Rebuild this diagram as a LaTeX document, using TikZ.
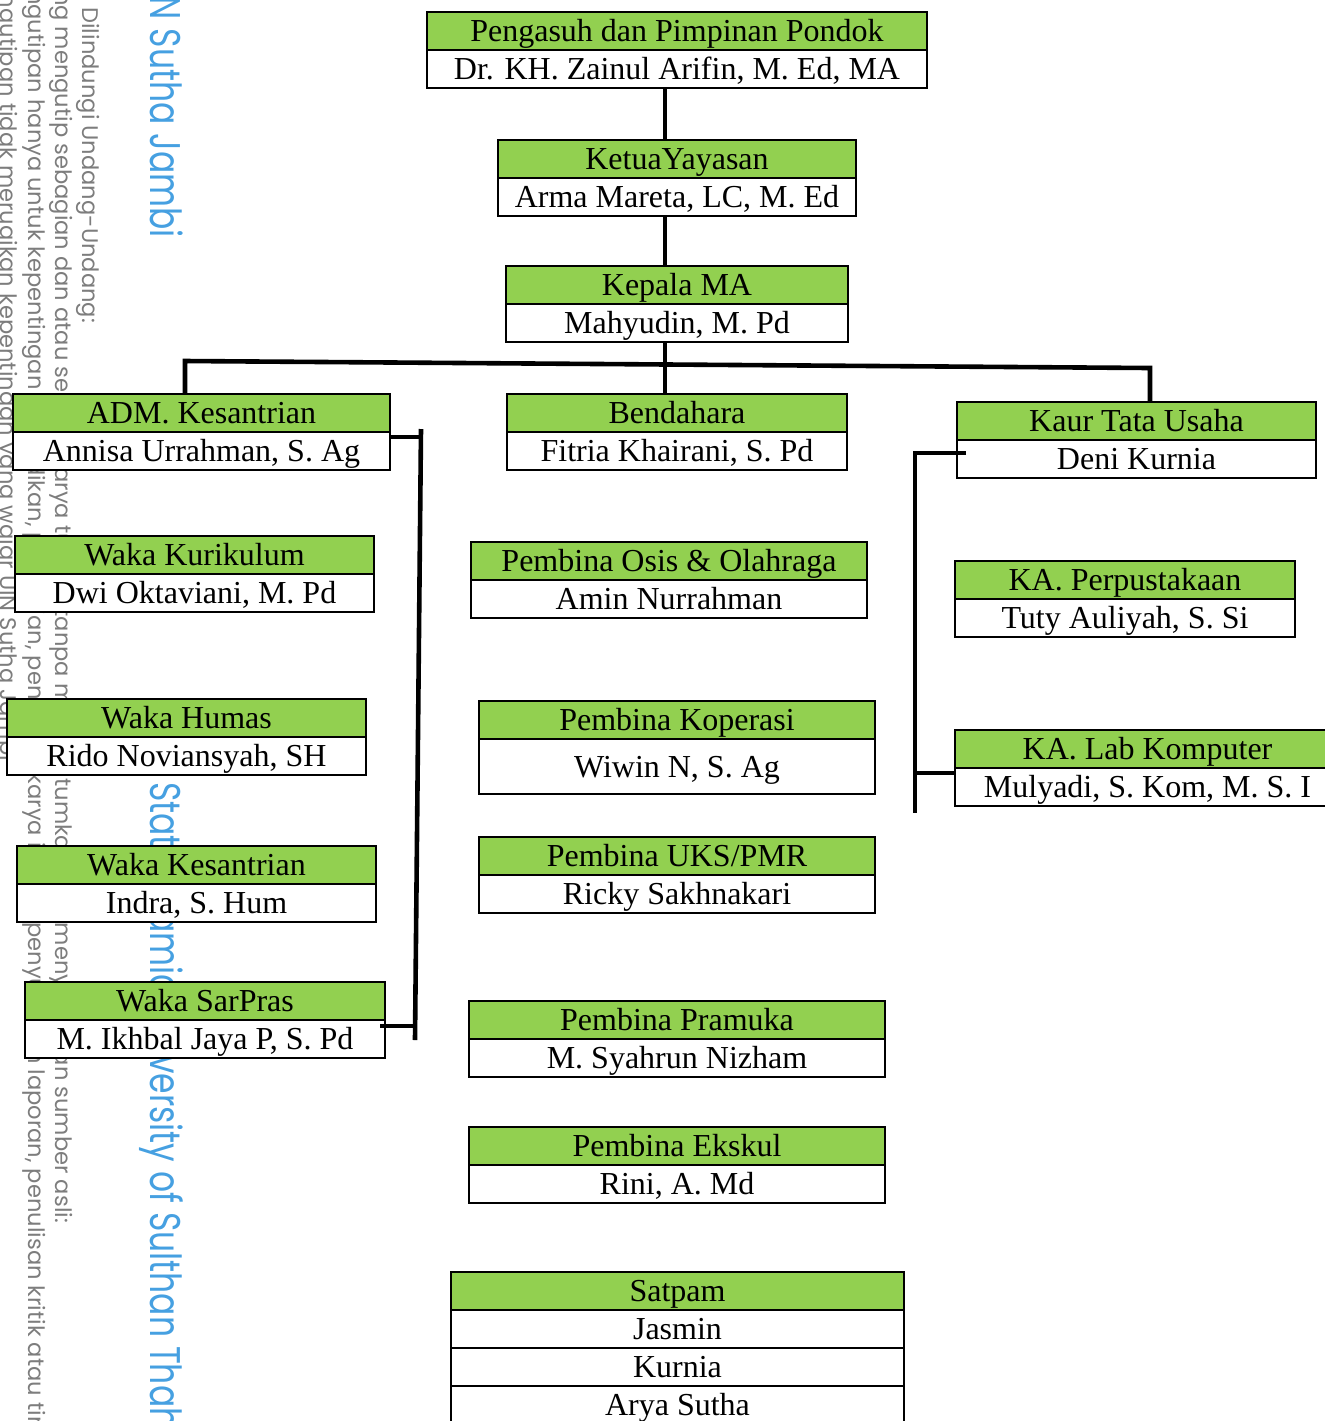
\documentclass[tikz,border=0pt]{standalone}
\usepackage{fontspec}
\setmainfont{Liberation Serif}
\newfontfamily\wmfont{Poppins}
\usetikzlibrary{positioning}
\definecolor{kgreen}{RGB}{146,208,80}
\definecolor{wmgray}{RGB}{125,125,125}
\definecolor{wmblue}{RGB}{70,160,225}

\begin{document}
\begin{tikzpicture}[x=0.5pt,y=-0.5pt,font=\fontsize{16}{19}\selectfont,
	head/.style={draw,line width=1.1pt,fill=kgreen,minimum width=#1,minimum height=19pt,inner sep=0pt,outer sep=0pt,text height=14pt,text depth=3.5pt,anchor=north west},
	who/.style={draw,line width=1.1pt,fill=white,minimum width=#1,minimum height=19pt,inner sep=0pt,outer sep=0pt,text height=14pt,text depth=3.5pt},
	conn/.style={line width=2.3pt},
	wm/.style={rotate=-90,anchor=base east,text=wmgray,font=\wmfont\fontsize{11.3}{13}\selectfont},
	wmbig/.style={wm,text=wmblue,yscale=1.3,font=\wmfont\fontsize{16.5}{19}\selectfont}]
	\path[use as bounding box] (0,0) rectangle (1325,1421);
	\clip (0,0) rectangle (1325,1421);
	% watermark
	\node[wm] (wmA) at (83,330) {Hak Cipta Dilindungi Undang-Undang:};
	\node[wm] (wmB) at (55,1230) {1. Dilarang mengutip sebagian dan atau seluruh karya tulis ini tanpa mencantumkan dan menyebutkan sumber asli:};
	\node[wm,anchor=base west] (wmC) at (28,-72) {a. Pengutipan hanya untuk kepentingan pendidikan, penelitian, penulisan karya ilmiah, penyusunan laporan, penulisan kritik atau tinjauan suatu masalah.};
	\node[wm] (wmD) at (1,768) {b. Pengutipan tidak merugikan kepentingan yang wajar UIN Sutha Jambi};
	\node[wmbig] (wmE) at (150,245) {Hak cipta milik UIN Sutha Jambi};
	\node[wmbig,anchor=base west] (wmF) at (150,775) {State Islamic University of Sulthan Thaha Saifuddin Jambi};
	% top
	\node[head=250pt] (pengasuh) at (427,12) {Pengasuh dan Pimpinan Pondok};
	\node[who=250pt,below=0pt of pengasuh] (pengasuhN) {Dr. KH. Zainul Arifin, M. Ed, MA};
	\node[head=179pt] (ketua) at (498,140) {KetuaYayasan};
	\node[who=179pt,below=0pt of ketua] (ketuaN) {Arma Mareta, LC, M. Ed};
	\node[head=171pt] (kepala) at (506,266) {Kepala MA};
	\node[who=171pt,below=0pt of kepala] (kepalaN) {Mahyudin, M. Pd};
	% second row
	\node[head=188.5pt] (adm) at (13,394) {ADM. Kesantrian};
	\node[who=188.5pt,below=0pt of adm] (admN) {Annisa Urrahman, S. Ag};
	\node[head=170pt] (bendahara) at (507,394) {Bendahara};
	\node[who=170pt,below=0pt of bendahara] (bendaharaN) {Fitria Khairani, S. Pd};
	\node[head=179.5pt] (kaur) at (957,402) {Kaur Tata Usaha};
	\node[who=179.5pt,below=0pt of kaur] (kaurN) {Deni Kurnia};
	% waka
	\node[head=179.5pt] (kurikulum) at (15,536) {Waka Kurikulum};
	\node[who=179.5pt,below=0pt of kurikulum] (kurikulumN) {Dwi Oktaviani, M. Pd};
	\node[head=179.5pt] (humas) at (7,699) {Waka Humas};
	\node[who=179.5pt,below=0pt of humas] (humasN) {Rido Noviansyah, SH};
	\node[head=179.5pt] (kesantrian) at (17,846) {Waka Kesantrian};
	\node[who=179.5pt,below=0pt of kesantrian] (kesantrianN) {Indra, S. Hum};
	\node[head=180pt] (sarpras) at (25,982) {Waka SarPras};
	\node[who=180pt,below=0pt of sarpras] (sarprasN) {M. Ikhbal Jaya P, S. Pd};
	% pembina
	\node[head=198pt] (osis) at (471,542) {Pembina Osis \& Olahraga};
	\node[who=198pt,below=0pt of osis] (osisN) {Amin Nurrahman};
	\node[head=198pt] (koperasi) at (479,701) {Pembina Koperasi};
	\node[who=198pt,minimum height=27.5pt,below=0pt of koperasi] (koperasiN) {Wiwin N, S. Ag};
	\node[head=198pt] (uks) at (479,837) {Pembina UKS/PMR};
	\node[who=198pt,below=0pt of uks] (uksN) {Ricky Sakhnakari};
	\node[head=208pt] (pramuka) at (469,1001) {Pembina Pramuka};
	\node[who=208pt,below=0pt of pramuka] (pramukaN) {M. Syahrun Nizham};
	\node[head=208pt] (ekskul) at (469,1127) {Pembina Ekskul};
	\node[who=208pt,below=0pt of ekskul] (ekskulN) {Rini, A. Md};
	\node[head=226.5pt] (satpam) at (451,1272) {Satpam};
	\node[who=226.5pt,below=0pt of satpam] (satpamA) {Jasmin};
	\node[who=226.5pt,below=0pt of satpamA] (satpamB) {Kurnia};
	\node[who=226.5pt,below=0pt of satpamB] (satpamC) {Arya Sutha};
	% kepala unit
	\node[head=170pt] (perpus) at (955,561) {KA. Perpustakaan};
	\node[who=170pt,below=0pt of perpus] (perpusN) {Tuty Auliyah, S. Si};
	\node[head=192.5pt] (lab) at (955,730) {KA. Lab Komputer};
	\node[who=192.5pt,below=0pt of lab] (labN) {Mulyadi, S. Kom, M. S. I};
	% connectors
	\coordinate (trunk) at (665,0);
	\draw[conn] (pengasuhN.south -| trunk) -- (ketua.north -| trunk);
	\draw[conn] (ketuaN.south -| trunk) -- (kepala.north -| trunk);
	\draw[conn] (kepalaN.south -| trunk) -- (bendahara.north -| trunk);
	\coordinate (branchL) at (185,361);
	\coordinate (branchR) at (1150,368);
	\draw[conn] (adm.north -| branchL) -- (branchL) -- (branchR) -- (kaur.north -| branchR);
	\coordinate (admHook) at (421,437);
	\coordinate (sarHook) at (415,1026);
	\draw[conn] (admN.east |- admHook) -- (admHook);
	\draw[conn] ([yshift=4pt]admHook) -- ([yshift=-7pt]sarHook);
	\draw[conn] ([xshift=-2.5pt]sarprasN.east |- sarHook) -- (sarHook);
	\coordinate (kaurHook) at (915,453);
	\coordinate (labHook) at (915,773);
	\draw[conn] ([xshift=4.5pt]kaurN.west |- kaurHook) -- (kaurHook) -- ([yshift=-20pt]labHook);
	\draw[conn] (labHook) -- (labN.west |- labHook);
\end{tikzpicture}
\end{document}
